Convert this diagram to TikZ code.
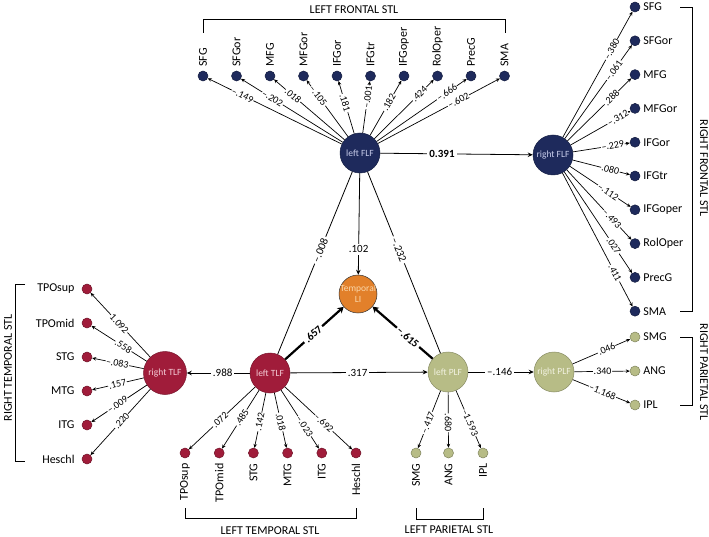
\documentclass[tikz,border=0pt]{standalone}
\usepackage{fontspec}
\setmainfont{Carlito}
\usetikzlibrary{arrows.meta}
\definecolor{navy}{RGB}{30,42,92}
\definecolor{crim}{RGB}{160,28,58}
\definecolor{oliv}{RGB}{183,188,134}
\definecolor{oran}{RGB}{226,128,42}
\definecolor{navytxt}{RGB}{200,205,235}
\definecolor{crimtxt}{RGB}{245,205,215}
\definecolor{olivtxt}{RGB}{242,242,225}
\definecolor{orantxt}{RGB}{250,215,170}
\begin{document}
\begin{tikzpicture}[x=1pt,y=-1pt,
  lat/.style={circle, minimum size=40pt, inner sep=0pt, fill=#1, draw=#1!75!black, line width=0.5pt},
  ind/.style={circle, minimum size=10pt, inner sep=0pt, fill=#1, draw=#1!70!black, line width=0.5pt},
  lattxt/.style={inner sep=0pt, align=center, font=\fontsize{9.5}{11}\selectfont, text=#1},
  lab/.style={inner sep=0pt, font=\fontsize{12}{14}\selectfont},
  grp/.style={inner sep=0pt, font=\fontsize{12}{14}\selectfont},
  el/.style={sloped, fill=white, inner sep=0.6pt, font=\fontsize{10}{11}\selectfont},
  ml/.style={fill=white, inner sep=2pt, font=\fontsize{11}{13}\selectfont},
  ie/.style={draw, line width=0.7pt, -{Stealth[length=4pt,width=3.5pt]}},
  me/.style={draw, line width=0.8pt, -{Stealth[length=5pt,width=4.5pt]}},
  pe/.style={draw, line width=0.8pt},
  te/.style={draw, line width=2.2pt, -{Stealth[length=6pt,width=7pt]}},
  br/.style={draw, line width=0.8pt}]
\useasboundingbox (0,0) rectangle (709,537);
\fill[white] (0,0) rectangle (709,537);

% latent factors
\node[lat=navy] (F) at (360,153) {};
\node[lattxt=navytxt] (Ft) at (F) {left FLF};
\node[lat=navy] (R) at (553,155) {};
\node[lattxt=navytxt] (Rt) at (R) {right FLF};
\node[lat=crim] (LT) at (270,373) {};
\node[lattxt=crimtxt] (LTt) at (LT) {left TLF};
\node[lat=crim, minimum size=43pt] (RT) at (165,373) {};
\node[lattxt=crimtxt] (RTt) at (RT) {right TLF};
\node[lat=oliv] (LP) at (448,372) {};
\node[lattxt=olivtxt] (LPt) at (LP) {left PLF};
\node[lat=oliv] (RP) at (554,372) {};
\node[lattxt=olivtxt] (RPt) at (RP) {right PLF};
\node[lat=oran, minimum size=38pt, draw=black!80] (T) at (358,294) {};
\node[lattxt=orantxt] (Tt) at (T) {Temporal\\LI};

% left frontal indicators
\foreach \n/\t in {1/SFG,2/SFGor,3/MFG,4/MFGor,5/IFGor,6/IFGtr,7/IFGoper,8/RolOper,9/PrecG,10/SMA}{
  \node[ind=navy] (t\n) at ({203+33.5*(\n-1)},76) {};
  \node[lab, rotate=90, anchor=west] (tl\n) at ([yshift=4pt]t\n.north) {\t};
}
\foreach \n/\p/\v in {1/.74/–.149,2/.69/–.202,3/.73/.018,4/.72/–.105,5/.58/.181,6/.69/–.001,7/.60/.182,8/.76/.424,9/.78/–.666,10/.66/–.602}{
  \draw[ie] (F) -- node[el,pos=\p]{\v} (t\n);
}

% right frontal indicators
\foreach \n/\t in {1/SFG,2/SFGor,3/MFG,4/MFGor,5/IFGor,6/IFGtr,7/IFGoper,8/RolOper,9/PrecG,10/SMA}{
  \node[ind=navy] (r\n) at (635,{7+33.8*(\n-1)}) {};
  \node[lab, anchor=west] (rl\n) at ([xshift=3pt]r\n.east) {\t};
}
\foreach \n/\p/\v in {1/.70/–.380,2/.73/–.061,3/.69/.288,4/.79/–.312,5/.70/–.229,6/.66/.080,7/.63/–.112,8/.70/–.493,9/.73/.027,10/.75/.411}{
  \draw[ie] (R) -- node[el,pos=\p]{\v} (r\n);
}

% right temporal indicators
\foreach \n/\t in {1/TPOsup,2/TPOmid,3/STG,4/MTG,5/ITG,6/Heschl}{
  \node[ind=crim] (a\n) at (87,{289+34*(\n-1)}) {};
  \node[lab, anchor=east] (al\n) at ([xshift=-7pt]a\n.west) {\t};
}
\foreach \n/\p/\v in {1/.52/1.092,2/.42/.558,3/.51/–.083,4/.51/.157,5/.53/–.009,6/.48/.220}{
  \draw[ie] (RT) -- node[el,pos=\p]{\v} (a\n);
}

% left temporal indicators
\foreach \n/\t in {1/TPOsup,2/TPOmid,3/STG,4/MTG,5/ITG,6/Heschl}{
  \node[ind=crim] (b\n) at ({185+34.2*(\n-1)},453) {};
  \node[lab, rotate=90, anchor=east] (bl\n) at ([yshift=-5pt]b\n.south) {\t};
}
\foreach \n/\p/\v in {1/.53/.072,2/.47/.485,3/.53/.142,4/.53/.018,5/.62/–.023,6/.58/–.692}{
  \draw[ie] (LT) -- node[el,pos=\p]{\v} (b\n);
}

% left parietal indicators
\foreach \n/\x/\t in {1/416/SMG,2/448.5/ANG,3/483/IPL}{
  \node[ind=oliv] (p\n) at (\x,453) {};
  \node[lab, rotate=90, anchor=east] (pl\n) at ([yshift=-5pt]p\n.south) {\t};
}
\foreach \n/\p/\v in {1/.56/–.417,2/.55/.680,3/.56/–1.593}{
  \draw[ie] (LP) -- node[el,pos=\p]{\v} (p\n);
}

% right parietal indicators
\foreach \n/\t in {1/SMG,2/ANG,3/IPL}{
  \node[ind=oliv] (q\n) at (635,{337+34*(\n-1)}) {};
  \node[lab, anchor=west] (ql\n) at ([xshift=3pt]q\n.east) {\t};
}
\foreach \n/\p/\v in {1/.59/.046,2/.51/.340,3/.52/–1.168}{
  \draw[ie] (RP) -- node[el,pos=\p]{\v} (q\n);
}

% structural paths
\draw[me] (F) -- node[ml,pos=.405]{\bfseries 0.391} (R);
\draw[me] (F) -- node[ml,pos=.75]{.102} (T);
\draw[pe] (LT) -- node[ml,sloped,pos=.57]{–.008} (F);
\draw[pe] (LP) -- node[ml,sloped,pos=.57]{–.232} (F);
\draw[te] (LT) -- node[ml,sloped,pos=.48]{\bfseries .657} (T);
\draw[te] (LP) -- node[ml,sloped,pos=.41]{\bfseries –.615} (T);
\draw[me] (LT) -- node[ml,pos=.43]{.988} (RT);
\draw[me] (LT) -- node[ml,pos=.49]{.317} (LP);
\draw[me] (LP) -- node[ml,pos=.48]{–.146} (RP);

% brackets and group titles
\draw[br] (203,33) -- (203,19) -- (505,19) -- (505,33);
\node[grp] (g1) at (354,10) {LEFT FRONTAL STL};
\draw[br] (680,7) -- (692,7) -- (692,311) -- (680,311);
\node[grp, rotate=-90] (g2) at (704,168) {RIGHT FRONTAL STL};
\draw[br] (680,337) -- (692,337) -- (692,405) -- (680,405);
\node[grp, rotate=-90] (g3) at (704,372) {RIGHT PARIETAL STL};
\draw[br] (25,284) -- (15,284) -- (15,461) -- (25,461);
\node[grp, rotate=90] (g4) at (8,368) {RIGHT TEMPORAL STL};
\draw[br] (185,508) -- (185,518) -- (356,518) -- (356,508);
\node[grp] (g5) at (270,531) {LEFT TEMPORAL STL};
\draw[br] (416,508) -- (416,519) -- (483,519) -- (483,508);
\node[grp] (g6) at (449,530) {LEFT PARIETAL STL};
\end{tikzpicture}
\end{document}
